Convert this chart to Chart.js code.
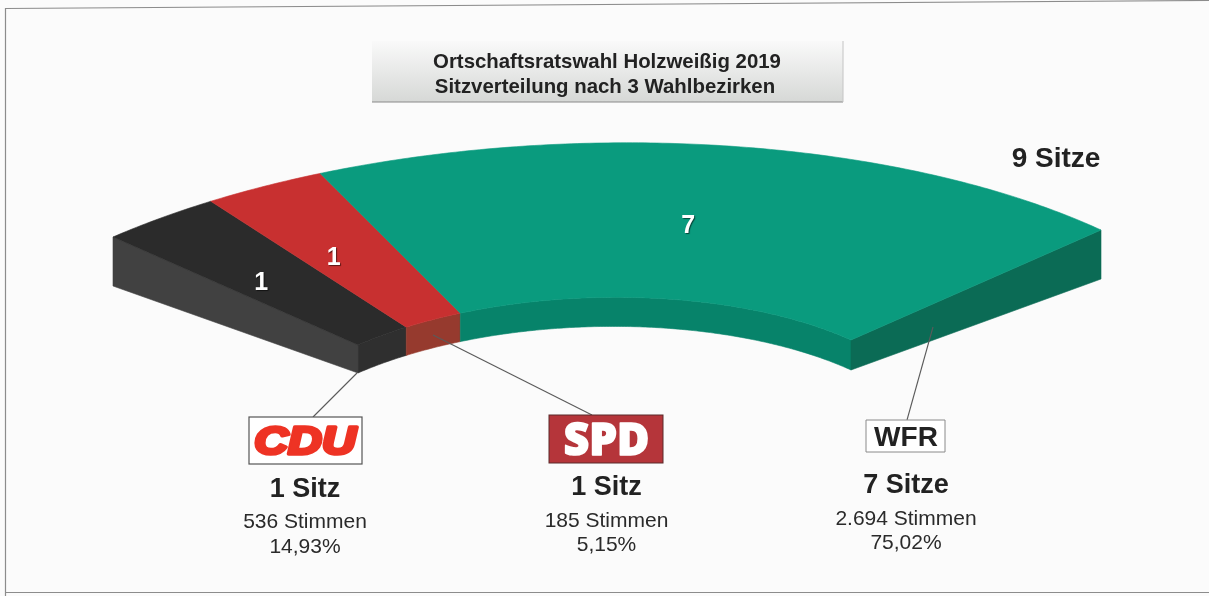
<!DOCTYPE html>
<html lang="de"><head><meta charset="utf-8">
<style>html,body{margin:0;padding:0;background:#fbfbfb;overflow:hidden}#wrap{width:1209px;height:596px;position:relative}</style>
<script src="https://cdn.jsdelivr.net/npm/chart.js@4"></script>
</head><body><div id="wrap"><canvas id="c" width="1209" height="596"></canvas></div>
<script>
const titleLines = ['Ortschaftsratswahl Holzweißig 2019', 'Sitzverteilung nach 3 Wahlbezirken'];
const categories = ['CDU', 'SPD', 'WFR'];
const seats = [1, 1, 7];
const seatLabels = ['1 Sitz', '1 Sitz', '7 Sitze'];
const voteLabels = ['536 Stimmen', '185 Stimmen', '2.694 Stimmen'];
const percentLabels = ['14,93%', '5,15%', '75,02%'];
const totalLabel = '9 Sitze';
const topColors = ['#2b2b2b', '#c83030', '#0a9b7e'];
const wallColors = ['#2f2f2f', '#963a2e', '#07836a'];
const endColors = ['#414141', '#963a2e', '#0b6b55'];

const FONT = '"Liberation Sans", Arial, sans-serif';
const SPAN = 90, CUT = 0.5;

function solveHomography(src, dst) {
  const A = [];
  for (let i = 0; i < 4; i++) {
    const [x, y] = src[i], [X, Y] = dst[i];
    A.push([x, y, 1, 0, 0, 0, -x * X, -y * X, X]);
    A.push([0, 0, 0, x, y, 1, -x * Y, -y * Y, Y]);
  }
  for (let c = 0; c < 8; c++) {
    let p = c;
    for (let r = c + 1; r < 8; r++) if (Math.abs(A[r][c]) > Math.abs(A[p][c])) p = r;
    [A[c], A[p]] = [A[p], A[c]];
    for (let r = 0; r < 8; r++) {
      if (r === c) continue;
      const f = A[r][c] / A[c][c];
      for (let k = c; k < 9; k++) A[r][k] -= f * A[c][k];
    }
  }
  const h = A.map((row, i) => row[8] / row[i]);
  return (u, v) => {
    const w = h[6] * u + h[7] * v + 1;
    return [(h[0] * u + h[1] * v + h[2]) / w, (h[3] * u + h[4] * v + h[5]) / w];
  };
}
const sh = Math.sin(SPAN / 2 * Math.PI / 180), ch = Math.cos(SPAN / 2 * Math.PI / 180);
const srcQuad = [[-sh, ch], [sh, ch], [-sh * CUT, ch * CUT], [sh * CUT, ch * CUT]];
const topPlane = solveHomography(srcQuad, [[113, 237], [1101, 230], [358, 345], [851, 340]]);
const basePlane = solveHomography(srcQuad, [[113, 286], [1101, 279], [358, 373], [851, 370]]);
// the inner wall keeps an almost constant height along the inner edge
const wallPlane = (u, v) => {
  const p = topPlane(u, v);
  return [p[0], p[1] + 28 + 2 * (p[0] - 358) / 493];
};

function arcPoints(el, ratio, plane, reverse) {
  const pts = [], n = Math.max(2, Math.ceil((el.endAngle - el.startAngle) * 180 / Math.PI * 2));
  for (let i = 0; i <= n; i++) {
    const a = el.startAngle + (el.endAngle - el.startAngle) * i / n;
    pts.push(plane(ratio * Math.cos(a), -ratio * Math.sin(a)));
  }
  return reverse ? pts.reverse() : pts;
}
function fillPoly(ctx, pts, color) {
  ctx.beginPath();
  pts.forEach((p, i) => i ? ctx.lineTo(p[0], p[1]) : ctx.moveTo(p[0], p[1]));
  ctx.closePath();
  ctx.fillStyle = color; ctx.fill();
  ctx.strokeStyle = color; ctx.lineWidth = 0.6; ctx.stroke();
}
function text(ctx, s, x, y, font, color, align) {
  ctx.font = font; ctx.fillStyle = color; ctx.textAlign = align || 'center';
  ctx.textBaseline = 'alphabetic'; ctx.fillText(s, x, y);
}

const solid = {
  id: 'solid',
  beforeDatasetDraw(chart, args) {
    const ctx = chart.ctx, arcs = chart.getDatasetMeta(args.index).data;
    const ratio = el => el.innerRadius / el.outerRadius;
    ctx.save();
    arcs.forEach((el, i) => {
      const r = ratio(el);
      fillPoly(ctx, arcPoints(el, r, topPlane).concat(arcPoints(el, r, wallPlane, true)), wallColors[i]);
    });
    const first = arcs[0], last = arcs[arcs.length - 1];
    const endFace = (el, a, color) => {
      const r = ratio(el), c = Math.cos(a), s = -Math.sin(a);
      fillPoly(ctx, [topPlane(c, s), topPlane(r * c, r * s), basePlane(r * c, r * s), basePlane(c, s)], color);
    };
    endFace(first, first.startAngle, endColors[0]);
    endFace(last, last.endAngle, endColors[2]);
    arcs.forEach((el) => {
      const r = ratio(el);
      fillPoly(ctx, arcPoints(el, 1, topPlane).concat(arcPoints(el, r, topPlane, true)), el.options.backgroundColor);
    });
    ctx.restore();
    return false;
  },
  afterDraw(chart) {
    const ctx = chart.ctx, arcs = chart.getDatasetMeta(0).data;
    ctx.save();
    const nudge = [[-10, 4], [-15, 3], [-17, 1]];
    arcs.forEach((el, i) => {
      const a = (el.startAngle + el.endAngle) / 2;
      const p = topPlane(0.75 * Math.cos(a), -0.75 * Math.sin(a));
      ctx.shadowColor = 'rgba(0,0,0,.55)'; ctx.shadowOffsetX = 1; ctx.shadowOffsetY = 1; ctx.shadowBlur = 1;
      text(ctx, String(seats[i]), p[0] + nudge[i][0], p[1] + nudge[i][1] + 9, 'bold 25px ' + FONT, '#ffffff');
      ctx.shadowColor = 'transparent'; ctx.shadowOffsetX = 0; ctx.shadowOffsetY = 0; ctx.shadowBlur = 0;
    });
    ctx.restore();
  },
  beforeDraw(chart) {
    const ctx = chart.ctx;
    ctx.save();
    ctx.fillStyle = '#fbfbfb'; ctx.fillRect(0, 0, 1209, 596);
    ctx.strokeStyle = '#8c8c8c'; ctx.lineWidth = 1.2;
    ctx.beginPath(); ctx.moveTo(5.5, 596); ctx.lineTo(5.5, 8.5); ctx.lineTo(1209, 0.5); ctx.stroke();
    ctx.beginPath(); ctx.moveTo(5.5, 592.5); ctx.lineTo(1209, 592.5); ctx.stroke();
    const g = ctx.createLinearGradient(0, 40, 0, 102);
    g.addColorStop(0, '#fafafa'); g.addColorStop(1, '#d6d8d6');
    ctx.fillStyle = g; ctx.fillRect(372, 41, 471, 61);
    ctx.strokeStyle = '#8a8a8a'; ctx.lineWidth = 1;
    ctx.beginPath(); ctx.moveTo(372, 102); ctx.lineTo(843, 102); ctx.stroke();
    ctx.strokeStyle = '#c4c4c4';
    ctx.beginPath(); ctx.moveTo(843, 41); ctx.lineTo(843, 102); ctx.stroke();
    ctx.restore();
  },
  afterDatasetsDraw(chart) {
    const ctx = chart.ctx;
    ctx.save();
    text(ctx, titleLines[0], 607, 67.5, 'bold 20.4px ' + FONT, '#222');
    text(ctx, titleLines[1], 605, 92.5, 'bold 20.4px ' + FONT, '#222');
    text(ctx, totalLabel, 1056, 167, 'bold 28px ' + FONT, '#222');
    const leaders = [[357, 373, 313, 417], [433, 335, 592, 415], [933, 327, 907, 420]];
    ctx.lineWidth = 1.1; ctx.strokeStyle = '#5a5a5a';
    leaders.forEach(l => { ctx.beginPath(); ctx.moveTo(l[0], l[1]); ctx.lineTo(l[2], l[3]); ctx.stroke(); });
    ctx.fillStyle = '#ffffff'; ctx.strokeStyle = '#555'; ctx.lineWidth = 1.2;
    ctx.fillRect(249, 417, 113, 47); ctx.strokeRect(249, 417, 113, 47);
    ctx.save();
    ctx.translate(305, 454); ctx.scale(1.2, 1);
    ctx.font = 'italic bold 39px ' + FONT; ctx.textAlign = 'center'; ctx.textBaseline = 'alphabetic';
    ctx.fillStyle = '#ee3324'; ctx.strokeStyle = '#ee3324'; ctx.lineWidth = 3.6; ctx.lineJoin = 'round';
    ctx.strokeText(categories[0], 0, 0); ctx.fillText(categories[0], 0, 0);
    ctx.restore();
    ctx.fillStyle = '#b5353a'; ctx.strokeStyle = '#5a2a2a'; ctx.lineWidth = 1;
    ctx.fillRect(549, 415, 114, 48); ctx.strokeRect(549, 415, 114, 48);
    ctx.font = '800 44px "Open Sans", sans-serif'; ctx.textAlign = 'center'; ctx.textBaseline = 'alphabetic';
    ctx.strokeStyle = '#ffffff'; ctx.lineWidth = 1.6; ctx.lineJoin = 'round';
    ctx.strokeText(categories[1], 606.5, 455);
    text(ctx, categories[1], 606.5, 455, '800 44px "Open Sans", sans-serif', '#ffffff');
    ctx.fillStyle = '#ffffff'; ctx.strokeStyle = '#8a8a8a'; ctx.lineWidth = 1;
    ctx.fillRect(866, 420, 79, 32); ctx.strokeRect(866, 420, 79, 32);
    text(ctx, categories[2], 906, 446, 'bold 28px ' + FONT, '#222');
    const xs = [305, 606.5, 906], seatY = [497, 495, 493], voteY = [528, 527, 525], pctY = [553, 551, 549];
    categories.forEach((_, i) => {
      text(ctx, seatLabels[i], xs[i], seatY[i], 'bold 27px ' + FONT, '#222');
      text(ctx, voteLabels[i], xs[i], voteY[i], '21px ' + FONT, '#2a2a2a');
      text(ctx, percentLabels[i], xs[i], pctY[i], '21px ' + FONT, '#2a2a2a');
    });
    ctx.restore();
  }
};

new Chart(document.getElementById('c'), {
  type: 'doughnut',
  data: { labels: categories, datasets: [{ data: seats, backgroundColor: topColors, borderWidth: 0 }] },
  options: {
    responsive: false, animation: false, rotation: -SPAN / 2, circumference: SPAN,
    cutout: (CUT * 100) + '%',
    plugins: { legend: { display: false }, title: { display: false }, tooltip: { enabled: false } }
  },
  plugins: [solid]
});
</script></body></html>
